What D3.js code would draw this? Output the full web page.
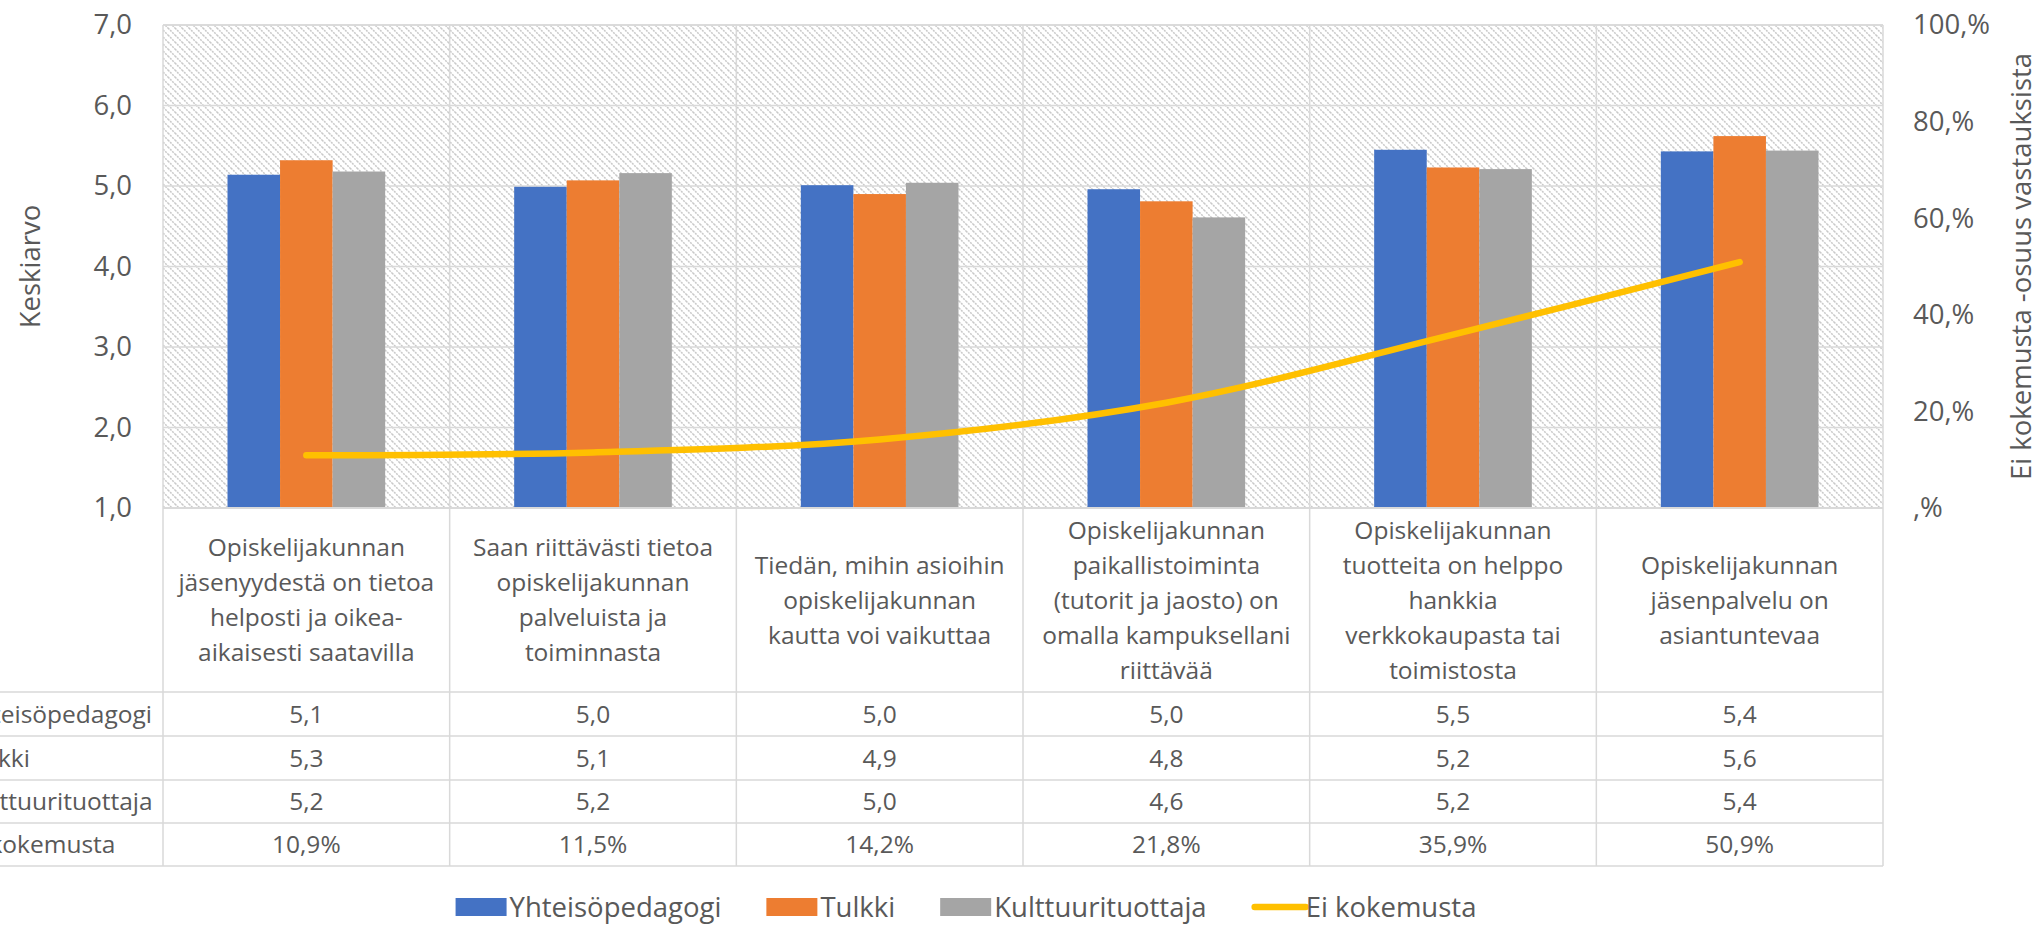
<!DOCTYPE html>
<html>
<head>
<meta charset="utf-8">
<script src="https://cdn.jsdelivr.net/npm/d3@7"></script>
<style>
  html, body { margin: 0; padding: 0; background: #ffffff; }
  svg { display: block; }
  text { font-family: "Open Sans", "Noto Sans", sans-serif; fill: #595959; }
</style>
</head>
<body>
<svg id="chart" width="2039" height="926"></svg>
<script>
// ---------------- DATA ----------------
const categories = [
  "Opiskelijakunnan\njäsenyydestä on tietoa\nhelposti ja oikea-\naikaisesti saatavilla",
  "Saan riittävästi tietoa\nopiskelijakunnan\npalveluista ja\ntoiminnasta",
  "Tiedän, mihin asioihin\nopiskelijakunnan\nkautta voi vaikuttaa",
  "Opiskelijakunnan\npaikallistoiminta\n(tutorit ja jaosto) on\nomalla kampuksellani\nriittävää",
  "Opiskelijakunnan\ntuotteita on helppo\nhankkia\nverkkokaupasta tai\ntoimistosta",
  "Opiskelijakunnan\njäsenpalvelu on\nasiantuntevaa"
];
const seriesNames = ["Yhteisöpedagogi", "Tulkki", "Kulttuurituottaja"];
const lineName = "Ei kokemusta";
const yhteisopedagogi = [5.14, 4.99, 5.01, 4.96, 5.45, 5.43];
const tulkki = [5.32, 5.07, 4.90, 4.81, 5.23, 5.62];
const kulttuurituottaja = [5.18, 5.16, 5.04, 4.61, 5.21, 5.44];
const eiKokemusta = [0.109, 0.115, 0.142, 0.218, 0.359, 0.509];

const yhteisopedagogiLabels = ["5,1", "5,0", "5,0", "5,0", "5,5", "5,4"];
const tulkkiLabels = ["5,3", "5,1", "4,9", "4,8", "5,2", "5,6"];
const kulttuurituottajaLabels = ["5,2", "5,2", "5,0", "4,6", "5,2", "5,4"];
const eiKokemustaLabels = ["10,9%", "11,5%", "14,2%", "21,8%", "35,9%", "50,9%"];

const leftTicks = [1, 2, 3, 4, 5, 6, 7];
const leftTickLabels = ["1,0", "2,0", "3,0", "4,0", "5,0", "6,0", "7,0"];
const rightTicks = [0, 0.2, 0.4, 0.6, 0.8, 1.0];
const rightTickLabels = [",%", "20,%", "40,%", "60,%", "80,%", "100,%"];

const leftTitle = "Keskiarvo";
const rightTitle = "Ei kokemusta -osuus vastauksista";

const colors = ["#4472C4", "#ED7D31", "#A5A5A5"];
const lineColor = "#FFC000";
const gridColor = "#D9D9D9";

// ---------------- LAYOUT ----------------
const plotL = 163, plotR = 1883, plotT = 25, plotB = 508;
const catLabelB = 692;
const rowBounds = [692, 736, 780, 823, 866];

const svg = d3.select("#chart");

// hatch pattern
const defs = svg.append("defs");
const pat = defs.append("pattern")
  .attr("id", "hatch").attr("patternUnits", "userSpaceOnUse")
  .attr("width", 7).attr("height", 7);
pat.append("rect").attr("width", 7).attr("height", 7).attr("fill", "#ffffff");
pat.append("path")
  .attr("d", "M0,0 L7,7 M-1,6 L1,8 M6,-1 L8,1")
  .attr("stroke", "#c9c9c9").attr("stroke-width", 1.5)
  .attr("stroke-dasharray", "2,1");

const x0 = d3.scaleBand().domain(categories).range([plotL, plotR]).paddingInner(0).paddingOuter(0);
const bw = x0.bandwidth();
const x1 = d3.scaleBand().domain(seriesNames).range([bw * 0.225, bw * 0.775]);
const yL = d3.scaleLinear().domain([1, 7]).range([plotB, plotT]);
const yR = d3.scaleLinear().domain([0, 1]).range([plotB, plotT]);

// plot background
svg.append("rect").attr("x", plotL).attr("y", plotT)
  .attr("width", plotR - plotL).attr("height", plotB - plotT)
  .attr("fill", "url(#hatch)");

// horizontal gridlines
svg.append("g").selectAll("line").data(leftTicks.slice(1)).join("line")
  .attr("x1", plotL).attr("x2", plotR)
  .attr("y1", d => yL(d)).attr("y2", d => yL(d))
  .attr("stroke", gridColor).attr("stroke-width", 1.5);

// vertical category boundaries (through plot and table)
const bounds = categories.map(c => x0(c)).concat([plotR]);
svg.append("g").selectAll("line").data(bounds).join("line")
  .attr("x1", d => d).attr("x2", d => d)
  .attr("y1", plotT).attr("y2", rowBounds[rowBounds.length - 1])
  .attr("stroke", gridColor).attr("stroke-width", 1.5);

// bars
const seriesData = [yhteisopedagogi, tulkki, kulttuurituottaja];
const barG = svg.append("g");
seriesNames.forEach((s, si) => {
  barG.append("g").selectAll("rect").data(categories).join("rect")
    .attr("x", (c) => x0(c) + x1(s))
    .attr("width", x1.bandwidth())
    .attr("y", (c, i) => yL(seriesData[si][i]))
    .attr("height", (c, i) => yL(1) - yL(seriesData[si][i]))
    .attr("fill", colors[si]);
});

// table horizontal lines
svg.append("line").attr("x1", plotL).attr("x2", plotR).attr("y1", plotB).attr("y2", plotB)
  .attr("stroke", gridColor).attr("stroke-width", 2);
svg.append("line").attr("x1", plotL).attr("x2", plotR).attr("y1", plotT).attr("y2", plotT)
  .attr("stroke", gridColor).attr("stroke-width", 1.5);
svg.append("g").selectAll("line").data(rowBounds).join("line")
  .attr("x1", -50).attr("x2", plotR)
  .attr("y1", d => d).attr("y2", d => d)
  .attr("stroke", gridColor).attr("stroke-width", 1.5);

// line series
const lineGen = d3.line()
  .x((d, i) => x0(categories[i]) + bw / 2)
  .y(d => yR(d))
  .curve(d3.curveCatmullRom.alpha(0.5));
svg.append("path").datum(eiKokemusta)
  .attr("d", lineGen)
  .attr("fill", "none").attr("stroke", lineColor)
  .attr("stroke-width", 6.5).attr("stroke-linecap", "round").attr("stroke-linejoin", "round");

// left axis
const axL = d3.axisLeft(yL).tickValues(leftTicks)
  .tickFormat((d, i) => leftTickLabels[i]).tickSize(0).tickPadding(0);
const gL = svg.append("g").attr("transform", `translate(132,0)`).call(axL);
gL.select(".domain").remove();
gL.selectAll("text").attr("font-size", 27.5).attr("fill", "#595959")
  .attr("font-family", '"Open Sans", sans-serif');

// right axis
const axR = d3.axisRight(yR).tickValues(rightTicks)
  .tickFormat((d, i) => rightTickLabels[i]).tickSize(0).tickPadding(0);
const gR = svg.append("g").attr("transform", `translate(1913,0)`).call(axR);
gR.select(".domain").remove();
gR.selectAll("text").attr("font-size", 27.5).attr("fill", "#595959")
  .attr("font-family", '"Open Sans", sans-serif');

// axis titles
svg.append("text").attr("transform", `translate(29,${(plotT + plotB) / 2}) rotate(-90)`)
  .attr("text-anchor", "middle").attr("dominant-baseline", "central")
  .attr("font-size", 27.5).text(leftTitle);
svg.append("text").attr("transform", `translate(2020,${(plotT + plotB) / 2}) rotate(-90)`)
  .attr("text-anchor", "middle").attr("dominant-baseline", "central")
  .attr("font-size", 27.5).text(rightTitle);

// category labels
const catCenterY = (plotB + catLabelB) / 2;
const catG = svg.append("g");
categories.forEach(c => {
  const lines = c.split("\n");
  const t = catG.append("text").attr("text-anchor", "middle").attr("font-size", 24.5);
  lines.forEach((ln, li) => {
    t.append("tspan").attr("x", x0(c) + bw / 2)
      .attr("y", catCenterY + (li - (lines.length - 1) / 2) * 35)
      .attr("dy", "0.35em").text(ln);
  });
});

// table rows
const rowNames = seriesNames.concat([lineName]);
const rowLabels = [yhteisopedagogiLabels, tulkkiLabels, kulttuurituottajaLabels, eiKokemustaLabels];
const tabG = svg.append("g");
const probe = tabG.append("text").attr("font-size", 24.5).text(rowNames[0]);
const w0 = probe.node().getComputedTextLength();
probe.remove();
const rowLabelX = 152 - w0;
rowNames.forEach((rn, ri) => {
  const cy = (rowBounds[ri] + rowBounds[ri + 1]) / 2;
  tabG.append("text").attr("x", rowLabelX).attr("y", cy).attr("dy", "0.35em")
    .attr("font-size", 24.5).text(rn);
  tabG.append("g").selectAll("text").data(categories).join("text")
    .attr("x", c => x0(c) + bw / 2).attr("y", cy).attr("dy", "0.35em")
    .attr("text-anchor", "middle").attr("font-size", 24.5)
    .text((c, i) => rowLabels[ri][i]);
});

// legend
const legG = svg.append("g");
const legY = 907;
const items = seriesNames.map((s, i) => ({ name: s, color: colors[i], type: "rect" }))
  .concat([{ name: lineName, color: lineColor, type: "line" }]);
let cx = 0;
items.forEach((it, i) => {
  const g = legG.append("g").attr("transform", `translate(${cx},0)`);
  if (it.type === "rect") {
    g.append("rect").attr("x", 0).attr("y", legY - 9).attr("width", 51).attr("height", 18).attr("fill", it.color);
  } else {
    g.append("line").attr("x1", 3).attr("x2", 54).attr("y1", legY).attr("y2", legY)
      .attr("stroke", it.color).attr("stroke-width", 6.5).attr("stroke-linecap", "round");
  }
  const t = g.append("text").attr("x", 54).attr("y", legY).attr("dy", "0.35em")
    .attr("font-size", 27.5).text(it.name);
  cx += 54 + t.node().getComputedTextLength() + 45;
});
const legW = cx - 45;
legG.attr("transform", `translate(${966 - legW / 2},0)`);
</script>
</body>
</html>
